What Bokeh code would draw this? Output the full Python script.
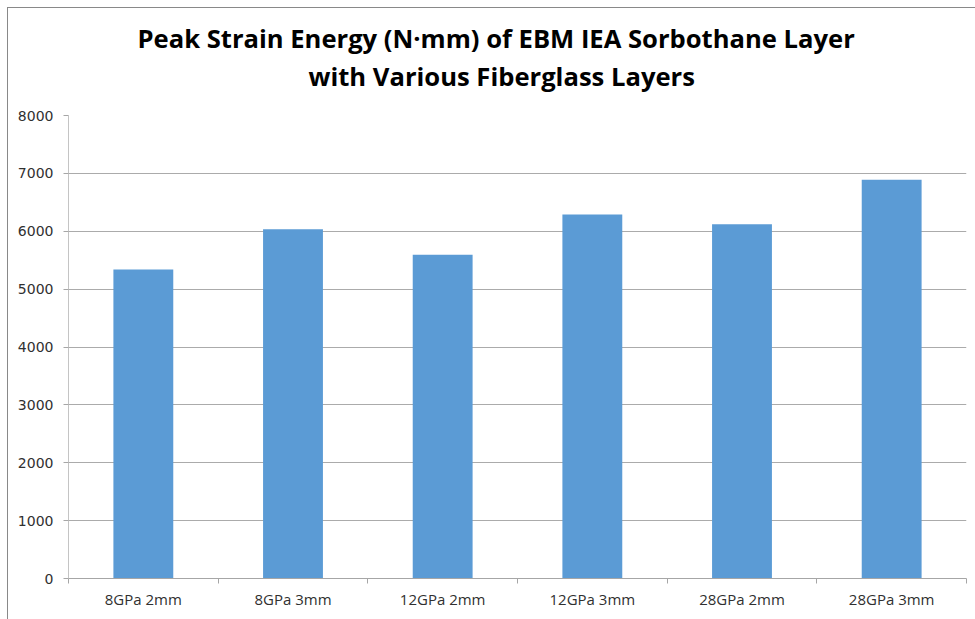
from bokeh.plotting import figure
from bokeh.models import Range1d, FixedTicker, Title, ColumnDataSource, InlineStyleSheet
from bokeh.embed import file_html
from bokeh.resources import INLINE

categories = ["8GPa 2mm", "8GPa 3mm", "12GPa 2mm", "12GPa 3mm", "28GPa 2mm", "28GPa 3mm"]
peak_energy = [5340, 6035, 5595, 6290, 6120, 6890]
y_ticks = [0, 1000, 2000, 3000, 4000, 5000, 6000, 7000, 8000]
title_line1 = "Peak Strain Energy (N\u00b7mm) of EBM IEA Sorbothane Layer"
title_line2 = "with Various Fiberglass Layers"

n = len(categories)
centers = [i + 0.5 for i in range(n)]
bounds = list(range(n + 1))
src = ColumnDataSource(dict(x=centers, top=peak_energy, cat=categories))

p = figure(width=975, height=619, title=None,
           x_range=Range1d(0, n), y_range=Range1d(y_ticks[0], y_ticks[-1]),
           output_backend="svg", toolbar_location=None,
           min_border_left=68, min_border_right=9, min_border_top=115, min_border_bottom=41)

# chart-area border (left and top edges visible in the cropped reference)
p.stylesheets = [InlineStyleSheet(css=(
    ":host::after { content: ''; position: absolute; left: 7px; top: 7px; right: 0; bottom: 0;"
    " border-left: 1px solid #898989; border-top: 1px solid #898989; pointer-events: none; }"))]

title_kw = dict(align="left", text_font="Open Sans", text_font_size="25.6px",
                text_font_style="bold", text_color="#000000")
# spacer between title block and plot area
p.add_layout(Title(text=" ", text_font_size="2px", standoff=16), "above")
p.add_layout(Title(text=title_line2, offset=240, standoff=3, **title_kw), "above")
p.add_layout(Title(text=title_line1, offset=69, standoff=0, **title_kw), "above")

p.vbar(x="x", top="top", width=0.4, source=src, fill_color="#5B9BD5", line_color=None)

p.outline_line_color = None
p.background_fill_color = "white"
p.border_fill_color = "white"

p.xgrid.visible = False
p.ygrid.ticker = FixedTicker(ticks=y_ticks)
p.ygrid.grid_line_color = "#ABABAB"

p.yaxis.ticker = FixedTicker(ticks=y_ticks)
p.yaxis.axis_line_color = "#C4C4C4"
p.yaxis.major_tick_line_color = "#A6A6A6"
p.yaxis.major_tick_in = 0
p.yaxis.major_tick_out = 5
p.yaxis.minor_tick_line_color = None
p.yaxis.major_label_text_font = "DejaVu Sans"
p.yaxis.major_label_text_font_size = "14px"
p.yaxis.major_label_text_color = "#303030"
p.yaxis.major_label_standoff = 10

p.xaxis.ticker = FixedTicker(ticks=centers, minor_ticks=bounds)
p.xaxis.major_label_overrides = {c: lab for c, lab in zip(centers, categories)}
p.xaxis.axis_line_color = "#A6A6A6"
p.xaxis.major_tick_line_color = None
p.xaxis.minor_tick_line_color = "#A6A6A6"
p.xaxis.minor_tick_in = 0
p.xaxis.minor_tick_out = 5
p.xaxis.major_label_text_font = "Open Sans"
p.xaxis.major_label_text_font_size = "15px"
p.xaxis.major_label_text_color = "#303030"
p.xaxis.major_label_standoff = 4

open("out.html", "w").write(file_html(p, INLINE))
